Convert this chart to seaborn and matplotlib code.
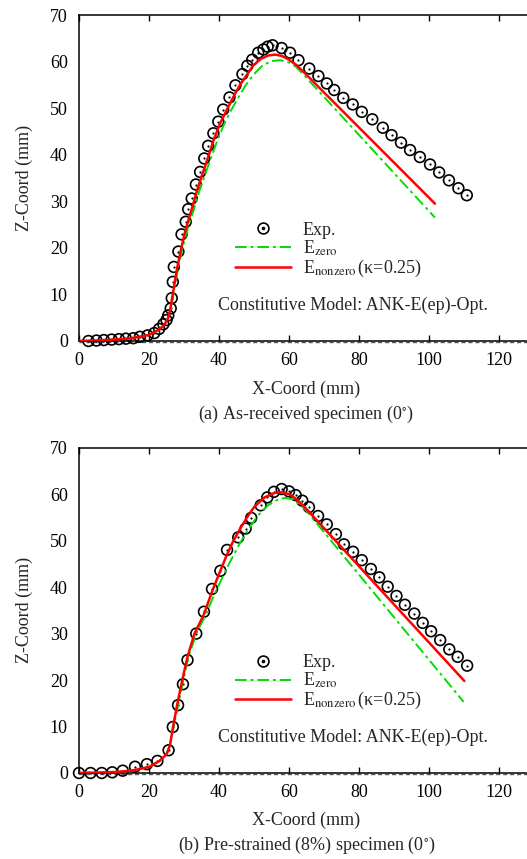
import matplotlib
matplotlib.use("Agg")
import matplotlib.pyplot as plt
import matplotlib.transforms as mtransforms
from matplotlib.lines import Line2D
import seaborn as sns

# ---------------- data ----------------
# (a) As-received specimen
exp_a_x = [2.7, 5.0, 7.1, 9.3, 11.4, 13.4, 15.5, 17.4, 19.6, 21.5, 22.9, 24.1, 25.0, 25.5,
           26.2, 26.5, 26.8, 27.1, 28.4, 29.3, 30.5, 31.2, 32.2, 33.4, 34.6, 35.8, 36.9,
           38.4, 39.8, 41.2, 43.0, 44.7, 46.7, 48.1, 49.5, 51.2, 52.7, 53.9, 55.3, 57.9,
           60.3, 62.7, 65.8, 68.4, 70.8, 72.9, 75.5, 78.2, 80.8, 83.8, 86.8, 89.3, 92.0,
           94.6, 97.4, 100.3, 102.9, 105.7, 108.4, 110.8]
exp_a_y = [0.0, 0.1, 0.2, 0.3, 0.4, 0.5, 0.6, 0.9, 1.2, 1.7, 2.6, 3.6, 4.5, 5.5,
           7.0, 9.2, 12.7, 15.9, 19.2, 22.9, 25.6, 28.3, 30.6, 33.6, 36.3, 39.2, 41.9,
           44.6, 47.1, 49.7, 52.3, 54.9, 57.3, 59.1, 60.4, 61.9, 62.6, 63.2, 63.5, 62.9,
           61.9, 60.3, 58.5, 56.9, 55.3, 53.9, 52.2, 50.8, 49.2, 47.6, 45.8, 44.2, 42.6,
           41.0, 39.5, 37.9, 36.2, 34.5, 32.8, 31.3]
zero_a_x = [0, 5, 10, 15, 20, 23, 24.5, 25.5, 26.2, 27.2, 28.3, 29.6, 31.0, 32.8, 34.3,
            35.8, 37.8, 39.5, 41.3, 43.2, 45.3, 47.5, 50.0, 52.5, 55.0, 57.5, 60.0, 62.0,
            65.0, 101.7]
zero_a_y = [0, 0.1, 0.3, 0.6, 1.3, 2.5, 3.6, 5.0, 6.5, 11.0, 15.5, 20.0, 24.0, 28.3, 32.0,
            35.3, 39.5, 43.0, 46.3, 49.2, 52.0, 54.8, 57.3, 59.2, 60.1, 60.3, 59.8, 58.9,
            56.5, 26.5]
nonzero_a_x = [0, 5, 10, 15, 20, 23, 24.5, 25.5, 26.0, 27.0, 28.0, 29.3, 30.5, 32.2, 33.6,
               35.0, 36.9, 38.5, 40.3, 42.0, 44.1, 46.0, 48.0, 49.8, 52.0, 54.0, 56.0, 58.0,
               60.0, 62.0, 64.0, 101.7]
nonzero_a_y = [0, 0.1, 0.3, 0.6, 1.3, 2.5, 3.6, 5.0, 6.5, 11.0, 15.5, 20.2, 24.0, 28.3, 32.0,
               35.3, 39.5, 43.2, 46.7, 49.3, 52.4, 55.0, 57.2, 59.2, 60.6, 61.3, 61.5, 61.2,
               60.4, 59.3, 57.9, 29.5]

# (b) Pre-strained (8%) specimen
exp_b_x = [0.0, 3.3, 6.5, 9.5, 12.5, 16.0, 19.4, 22.4, 25.6, 26.8, 28.3, 29.7, 31.0, 33.5,
           35.7, 38.0, 40.4, 42.3, 45.5, 47.6, 49.2, 51.9, 53.8, 55.7, 57.9, 60.0, 61.9,
           63.8, 65.7, 68.3, 70.8, 73.4, 75.7, 78.3, 80.8, 83.4, 85.8, 88.2, 90.7, 93.1,
           95.8, 98.2, 100.6, 103.2, 105.8, 108.2, 110.9]
exp_b_y = [0.0, 0.0, 0.0, 0.15, 0.5, 1.35, 1.9, 2.6, 4.9, 9.9, 14.6, 19.1, 24.3, 30.0,
           34.7, 39.6, 43.5, 48.0, 50.7, 52.6, 54.9, 57.6, 59.3, 60.5, 61.1, 60.6, 59.8,
           58.6, 57.2, 55.3, 53.5, 51.4, 49.2, 47.6, 45.8, 43.9, 42.1, 40.1, 38.1, 36.2,
           34.3, 32.3, 30.5, 28.6, 26.6, 25.0, 23.1]
zero_b_x = [0, 10, 15, 20, 23, 25, 26, 27.2, 28.3, 29.8, 31.3, 33.5, 36.2, 38.7, 40.8, 43.0,
            45.5, 48.0, 51.0, 54.0, 57.0, 59.0, 61.0, 63.0, 65.0, 109.9]
zero_b_y = [0, 0.2, 0.5, 1.3, 2.6, 4.0, 6.0, 10.5, 14.5, 20.0, 25.0, 30.0, 34.0, 38.5, 41.8,
            45.2, 48.8, 52.0, 55.3, 57.6, 58.9, 59.2, 58.9, 57.9, 56.4, 15.3]
nonzero_b_x = [0, 10, 15, 20, 23, 25, 26, 27, 28, 29.5, 31, 33, 35.6, 38, 40, 42, 44, 46,
               48, 50, 53, 56, 58, 60, 62, 64, 110.1]
nonzero_b_y = [0, 0.2, 0.5, 1.3, 2.6, 4.0, 6.0, 10.5, 14.5, 20.0, 25.0, 30.0, 34.0, 39.0,
               42.8, 46.5, 49.8, 52.5, 55.0, 57.2, 59.3, 60.3, 60.4, 60.0, 59.0, 57.6, 19.8]

x_ticks = [0, 20, 40, 60, 80, 100, 120]
y_ticks = [0, 10, 20, 30, 40, 50, 60, 70]
labels = ["Exp.", r"E$_{\mathrm{zero}}$", r"E$_{\mathrm{nonzero}}\,$(κ=0.25)"]
model_text = "Constitutive Model: ANK-E(ep)-Opt."
captions = ["(a) As-received specimen (0$^{\\circ}$)",
            "(b) Pre-strained (8%) specimen (0$^{\\circ}$)"]

# ---------------- style ----------------
sns.set_theme(style="white")
plt.rcParams["font.family"] = ["Liberation Serif", "DejaVu Serif"]
plt.rcParams["mathtext.fontset"] = "stix"
plt.rcParams["font.size"] = 13

GREEN = "#00dd00"
RED = "#ff0000"
DASHDOT = (0, (6, 2, 1.5, 2))
FS = 13

fig = plt.figure(figsize=(5.27, 8.59), dpi=100)
ax1 = fig.add_axes([0.1499, 0.60303, 0.8501, 0.3795])
ax2 = fig.add_axes([0.1499, 0.10012, 0.8501, 0.3787])


def panel(ax, ex, ey, gx, gy, rx, ry, caption):
    ax.set_xlim(0, 128)
    ax.set_ylim(0, 70)
    # experimental points: open circles with a centre dot
    sns.scatterplot(x=ex, y=ey, ax=ax, marker="o", s=60, clip_on=False, zorder=3)
    c = ax.collections[-1]
    c.set_facecolor("none")
    c.set_edgecolor("black")
    c.set_linewidth(1.2)
    sns.scatterplot(x=ex, y=ey, ax=ax, marker="o", s=2.5, color="black",
                    linewidth=0, clip_on=False, zorder=3)
    sns.lineplot(x=gx, y=gy, ax=ax, sort=False, estimator=None, color=GREEN,
                 lw=1.4, linestyle=DASHDOT, zorder=4)
    sns.lineplot(x=rx, y=ry, ax=ax, sort=False, estimator=None, color=RED,
                 lw=1.8, zorder=5)

    # zero axis dashed line just below the bottom spine
    off = mtransforms.offset_copy(ax.transAxes, fig=fig, x=0, y=-1.5, units="dots")
    ax.plot([0, 1], [0, 0], transform=off, color="0.35", lw=1.0,
            linestyle=(0, (3, 2)), clip_on=False, zorder=2)

    ax.set_xticks(x_ticks)
    ax.set_yticks(y_ticks)
    ax.tick_params(axis="x", which="both", direction="in", length=4, width=1,
                   top=True, bottom=True, pad=8, labelsize=FS, colors="black")
    ax.tick_params(axis="y", length=0, pad=8, labelsize=FS, colors="black")
    for s in ["left", "bottom", "top"]:
        ax.spines[s].set_color("black")
        ax.spines[s].set_linewidth(1.1)
    ax.spines["right"].set_visible(False)

    ax.set_xlabel("X-Coord (mm)", fontsize=FS)
    ax.set_ylabel("Z-Coord (mm)", fontsize=FS)
    ax.xaxis.label.set_va("center")
    ax.yaxis.label.set_va("center")
    ax.xaxis.set_label_coords(65 / 128, -0.147)
    ax.yaxis.set_label_coords(-0.122, 0.5)

    ax.text(65 / 128, -0.224, caption, transform=ax.transAxes,
            ha="center", va="center", fontsize=FS)
    ax.text(0.311, 0.110, model_text, transform=ax.transAxes,
            ha="left", va="center", fontsize=FS)

    h_exp = (Line2D([], [], marker="o", ls="none", mfc="none", mec="black",
                    ms=7.8, mew=1.2),
             Line2D([], [], marker="o", ls="none", color="black", ms=1.6))
    h_zero = Line2D([], [], color=GREEN, lw=1.4, linestyle=DASHDOT)
    h_non = Line2D([], [], color=RED, lw=1.8)
    ax.legend([h_exp, h_zero, h_non], labels, loc="upper left",
              bbox_to_anchor=(0.348, 0.366), frameon=False, borderpad=0,
              borderaxespad=0, handlelength=3.1, handletextpad=0.65,
              labelspacing=0.0, numpoints=1, fontsize=FS)


panel(ax1, exp_a_x, exp_a_y, zero_a_x, zero_a_y, nonzero_a_x, nonzero_a_y, captions[0])
panel(ax2, exp_b_x, exp_b_y, zero_b_x, zero_b_y, nonzero_b_x, nonzero_b_y, captions[1])

fig.savefig("out.png", dpi=100)
